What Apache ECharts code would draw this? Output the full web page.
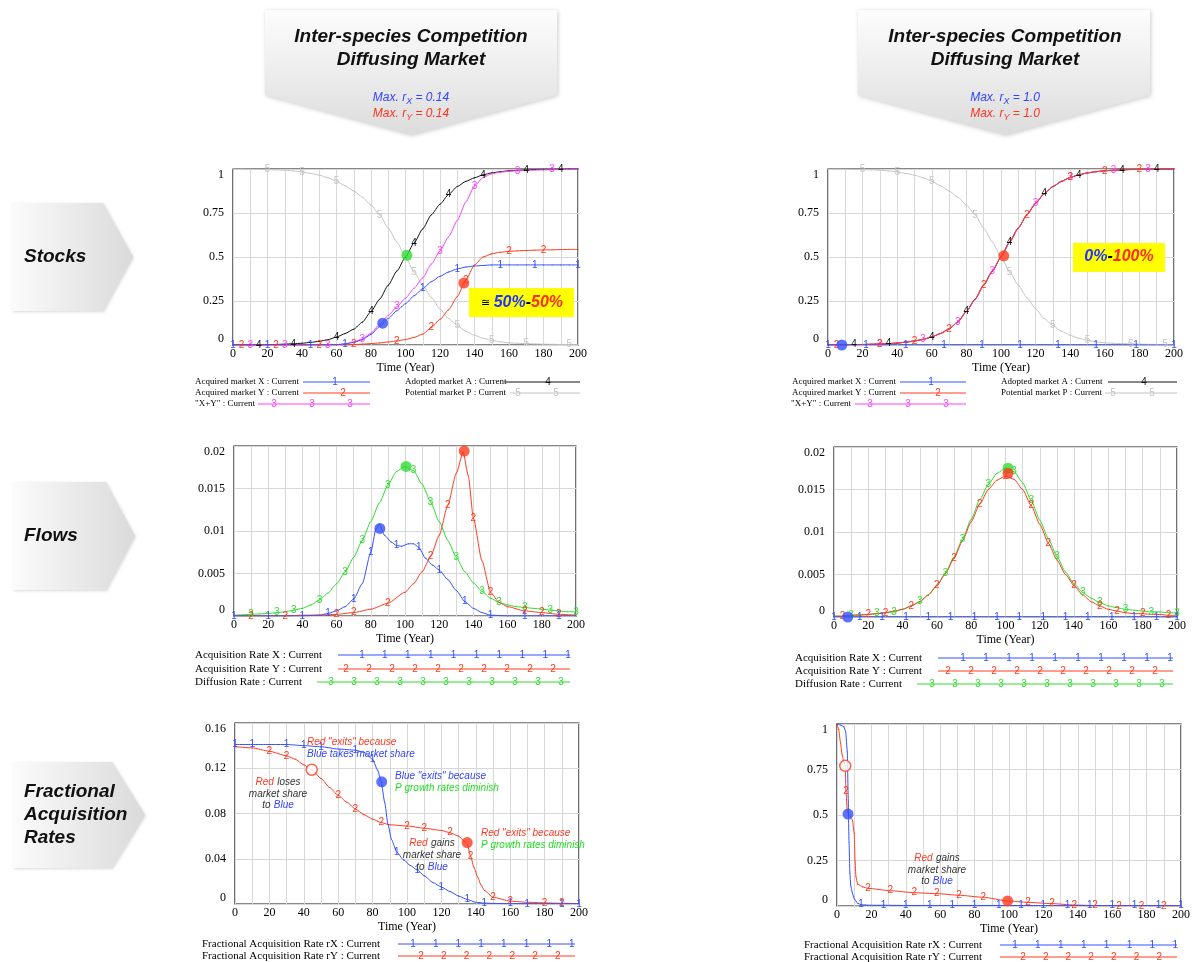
<!DOCTYPE html>
<html>
<head>
<meta charset="utf-8">
<script src="https://cdn.jsdelivr.net/npm/echarts@6/dist/echarts.min.js"></script>
</head>
<body style="margin:0;background:#fff">
<div id="container" style="width:1192px;height:962px"></div>
<script>
var SERIF = '"Liberation Serif", "Times New Roman", serif';
var SANS = '"Liberation Sans", Arial, sans-serif';
var BLUE = '#3350ff', RED = '#ff3a1e', MAG = '#ff40ff', BLACK = '#111', GRAY = '#c4c4c4', GREEN = '#2fdc2f';

// time grid, years
var T5 = [0,5,10,15,20,25,30,35,40,45,50,55,60,65,70,75,80,85,90,95,100,105,110,115,120,125,130,135,140,145,150,155,160,165,170,175,180,185,190,195,200];

// ---- Stocks, max r = 0.14
var stockL_X = [0,0,0,0,0,0,0,0,0,0,0,0,0.002,0.006,0.015,0.03,0.06,0.105,0.15,0.195,0.235,0.28,0.32,0.36,0.39,0.415,0.432,0.443,0.449,0.452,0.455,0.455,0.455,0.455,0.455,0.455,0.455,0.455,0.455,0.455,0.455];
var stockL_Y = [0,0,0,0,0,0,0,0,0,0,0,0,0,0,0.002,0.005,0.008,0.012,0.017,0.023,0.031,0.043,0.062,0.1,0.145,0.2,0.275,0.37,0.455,0.5,0.518,0.527,0.532,0.535,0.537,0.539,0.54,0.541,0.542,0.543,0.543];
var stockL_XY = [0,0,0,0,0,0,0,0,0,0,0,0,0.002,0.006,0.017,0.035,0.068,0.117,0.167,0.218,0.266,0.323,0.382,0.46,0.535,0.615,0.707,0.813,0.904,0.952,0.973,0.982,0.987,0.99,0.992,0.994,0.995,0.996,0.997,0.998,0.998];
var stockL_A = [0,0,0.001,0.001,0.002,0.003,0.005,0.007,0.01,0.015,0.021,0.03,0.045,0.065,0.09,0.13,0.19,0.26,0.34,0.42,0.5,0.58,0.66,0.74,0.8,0.855,0.9,0.93,0.95,0.967,0.978,0.985,0.99,0.993,0.995,0.997,0.998,0.999,0.999,1,1];
var stockL_P = [1,1,0.999,0.998,0.997,0.995,0.993,0.989,0.983,0.975,0.965,0.95,0.93,0.905,0.875,0.84,0.795,0.74,0.665,0.585,0.5,0.415,0.34,0.27,0.205,0.15,0.11,0.078,0.055,0.038,0.026,0.018,0.012,0.01,0.008,0.006,0.005,0.004,0.003,0.003,0.002];

// ---- Stocks, max r = 1.0
var stockR_tX = [0,8,22,45,67,89,111,133,155,178,200];
var stockR_X = [0,0,0,0,0,0,0,0,0,0,0];
var stockR_A = [0.001,0.001,0.002,0.002,0.003,0.004,0.006,0.008,0.011,0.016,0.023,0.032,0.046,0.065,0.092,0.13,0.19,0.26,0.34,0.42,0.5,0.585,0.665,0.74,0.805,0.86,0.9,0.93,0.952,0.967,0.978,0.985,0.99,0.993,0.995,0.997,0.998,0.998,0.999,0.999,1];
var stockR_P = [1,1,0.999,0.998,0.997,0.995,0.993,0.989,0.983,0.975,0.965,0.95,0.93,0.905,0.875,0.84,0.795,0.74,0.665,0.585,0.5,0.415,0.34,0.27,0.205,0.15,0.11,0.078,0.055,0.038,0.026,0.018,0.012,0.01,0.008,0.006,0.005,0.004,0.003,0.003,0.002];

// ---- Flows, max r = 0.14
var flowL_D = [0.0001,0.00015,0.0002,0.00025,0.0003,0.0004,0.0005,0.0007,0.0009,0.0013,0.0019,0.0027,0.0038,0.0052,0.0069,0.0089,0.0111,0.0133,0.0154,0.017,0.0176,0.0171,0.0155,0.0134,0.0111,0.0089,0.0069,0.0052,0.0039,0.0029,0.0021,0.0016,0.0013,0.0011,0.001,0.0009,0.0008,0.0007,0.0006,0.0005,0.0005];
var flowL_tX = [0,10,20,30,40,50,55,60,65,70,75,80,83,85,88,92,95,98,102,105,108,112,116,120,125,130,135,140,145,150,160,170,180,190,200];
var flowL_X = [0,0,0,0,0,0.0001,0.0003,0.0006,0.0011,0.002,0.0038,0.0075,0.0102,0.0108,0.0095,0.0087,0.0083,0.0082,0.0085,0.0085,0.0081,0.0068,0.006,0.0054,0.0043,0.003,0.0017,0.0009,0.0004,0.0001,0,0,0,0,0];
var flowL_tY = [0,10,20,30,40,50,60,70,80,90,100,105,110,115,120,125,130,134,137,140,145,150,155,160,170,180,190,200];
var flowL_Y = [0,0,0,0,0.0001,0.0001,0.0002,0.0004,0.0008,0.0015,0.0028,0.0038,0.0052,0.007,0.0095,0.013,0.0168,0.0193,0.0165,0.0115,0.0065,0.0028,0.0016,0.0011,0.0006,0.0004,0.0002,0.0001];

// ---- Flows, max r = 1.0
var flowR_D = [0.0001,0.0001,0.0002,0.0003,0.0003,0.0004,0.0005,0.0006,0.0009,0.0013,0.0018,0.0026,0.0037,0.0052,0.0071,0.0092,0.0115,0.0138,0.0156,0.0169,0.0175,0.0171,0.0158,0.0137,0.0114,0.0092,0.0071,0.0053,0.0039,0.0029,0.0022,0.0017,0.0013,0.0011,0.0009,0.0008,0.0007,0.0006,0.0006,0.0005,0.0005];
var flowR_Y = [0.0001,0.0001,0.0002,0.0002,0.0003,0.0004,0.0005,0.0007,0.0009,0.0013,0.0018,0.0026,0.0037,0.0051,0.0069,0.009,0.0112,0.0133,0.015,0.0161,0.0166,0.0162,0.015,0.0131,0.0109,0.0087,0.0067,0.005,0.0037,0.0026,0.0018,0.0013,0.0009,0.0007,0.0005,0.0004,0.0004,0.0003,0.0003,0.0002,0.0002];
var flowR_tX = [0,8,15,28,42,55,68,82,95,108,122,135,148,162,175,188,200];
var flowR_X = [0,0,0,0,0,0,0,0,0,0,0,0,0,0,0,0,0];

// ---- Fractional acquisition rates, max r = 0.14
var fracL_tX = [0,10,20,30,40,50,60,70,75,80,83,85,87,89,91,94,98,102,106,110,115,120,125,130,135,140,145,150,160,170,180,190,200];
var fracL_X = [0.141,0.141,0.141,0.141,0.14,0.139,0.137,0.136,0.134,0.128,0.118,0.108,0.09,0.07,0.057,0.046,0.039,0.034,0.03,0.025,0.019,0.015,0.011,0.007,0.004,0.0015,0.0008,0.0005,0.0003,0.0002,0.0002,0.0002,0.0002];
var fracL_tY = [0,10,20,30,35,40,45,50,55,60,65,70,75,80,85,90,100,110,120,125,130,133,135,137,139,141,143,145,150,160,170,180,190,200];
var fracL_Y = [0.139,0.138,0.135,0.131,0.128,0.123,0.118,0.111,0.103,0.096,0.09,0.084,0.079,0.075,0.072,0.07,0.069,0.067,0.065,0.063,0.06,0.056,0.053,0.042,0.032,0.024,0.017,0.012,0.006,0.0025,0.0015,0.001,0.0006,0.0004];

// ---- Fractional acquisition rates, max r = 1.0
var fracR_tX = [0,2,4,5,6,6.5,7,7.5,8,9,10,12,14,20,27,40,54,67,80,94,107,120,134,147,160,173,187,200];
var fracR_X = [1,0.995,0.985,0.96,0.85,0.6,0.35,0.18,0.11,0.07,0.04,0.015,0.007,0.004,0.004,0.003,0.003,0.003,0.003,0.003,0.002,0.002,0.002,0.002,0.002,0.002,0.002,0.002];
var fracR_tY = [0,1,2,3,4,4.8,5.2,6,7,8,9,10,10.5,11,12,15,18,31,45,58,71,85,99,111,125,138,150,164,177,190,200];
var fracR_Y = [1,0.97,0.9,0.83,0.79,0.77,0.63,0.52,0.5,0.49,0.47,0.4,0.25,0.16,0.12,0.105,0.097,0.084,0.073,0.068,0.059,0.048,0.028,0.02,0.013,0.0055,0.002,0.0012,0.0008,0.0005,0.0004];

// highlighted points
var dotStockL = {green: [[100.8, 0.51]], blue: [[86.8, 0.124]], red: [[133.8, 0.352]]};
var dotStockR = {red: [[101.6, 0.507]], blue: [[8, 0]]};
var dotFlowL = {green: [[100.6, 0.0176]], blue: [[85.3, 0.0103]], red: [[134.6, 0.0194]]};
var dotFlowR = {green: [[101.5, 0.0175]], red: [[101.5, 0.0169]], blue: [[8, 0]]};
var dotFracL = {open: [[44.6, 0.1187]], blue: [[85.3, 0.108]], red: [[135, 0.0543]]};
var dotFracR = {open: [[4.8, 0.77]], blue: [[6.4, 0.505]], red: [[99.2, 0.028]]};

var grids = [
  {left: 233, top: 169, width: 345, height: 176},
  {left: 828, top: 169, width: 346, height: 176},
  {left: 234, top: 446, width: 342, height: 170},
  {left: 834, top: 447, width: 343, height: 170},
  {left: 235, top: 723, width: 344, height: 181},
  {left: 837, top: 724, width: 344, height: 182}
];
var yMax = [1, 1, 0.02, 0.02, 0.16, 1];
var yStep = [0.25, 0.25, 0.005, 0.005, 0.04, 0.25];

function line(g, t, v, color, digit, marks, z) {
  return {
    type: 'line', xAxisIndex: g, yAxisIndex: g,
    data: t.map(function (x, k) { return [x, v[k]]; }),
    symbol: 'circle', symbolSize: 1, showSymbol: true,
    smooth: 0.2, smoothMonotone: 'x',
    lineStyle: {color: color, width: 1},
    itemStyle: {color: color},
    label: {
      show: true, position: 'inside', color: color, fontSize: 10, fontFamily: SANS,
      formatter: function (p) { return marks.indexOf(p.value[0]) >= 0 ? digit : ''; }
    },
    z: z || 2, silent: true, animation: false
  };
}
function dot(g, pts, color, hollow) {
  return {
    type: 'scatter', xAxisIndex: g, yAxisIndex: g, data: pts, symbolSize: 11,
    itemStyle: hollow ? {color: '#fff', borderColor: color, borderWidth: 1.5} : {color: color},
    z: 6, silent: true, animation: false
  };
}

var series = [
  line(0, T5, stockL_P, GRAY, '5', [20,40,60,85,105,130,150,170,195]),
  line(0, T5, stockL_A, BLACK, '4', [15,35,60,80,105,125,145,170,190]),
  line(0, T5, stockL_XY, MAG, '3', [10,30,55,75,95,120,140,165,185]),
  line(0, T5, stockL_Y, RED, '2', [5,25,50,70,95,115,135,160,180]),
  line(0, T5, stockL_X, BLUE, '1', [0,20,45,65,110,130,155,175,200]),
  dot(0, dotStockL.green, GREEN), dot(0, dotStockL.blue, BLUE), dot(0, dotStockL.red, RED),

  line(1, T5, stockR_P, GRAY, '5', [20,40,60,85,105,130,150,175,195]),
  line(1, T5, stockR_A, BLACK, '4', [15,35,60,80,105,125,145,170,190]),
  line(1, T5, stockR_A, MAG, '3', [30,55,75,95,120,140,165,185]),
  line(1, T5, stockR_A, RED, '2', [5,30,50,70,90,115,140,160,180]),
  line(1, stockR_tX, stockR_X, BLUE, '1', [0,22,45,67,89,111,133,155,178,200]),
  dot(1, dotStockR.red, RED), dot(1, dotStockR.blue, BLUE),

  line(2, T5, flowL_D, GREEN, '3', [10,25,35,50,65,75,90,105,115,130,145,155,170,185,200]),
  line(2, flowL_tY, flowL_Y, RED, '2', [10,30,60,70,90,115,125,140,150,170,180,190]),
  line(2, flowL_tX, flowL_X, BLUE, '1', [0,20,40,55,70,80,95,108,120,135,150,170,190]),
  dot(2, dotFlowL.green, GREEN), dot(2, dotFlowL.blue, BLUE), dot(2, dotFlowL.red, RED),

  line(3, T5, flowR_D, GREEN, '3', [10,25,35,50,65,75,90,105,115,130,145,155,170,185,200]),
  line(3, T5, flowR_Y, RED, '2', [5,20,30,45,60,70,85,100,115,125,140,155,165,180,195]),
  line(3, flowR_tX, flowR_X, BLUE, '1', [0,15,28,42,55,68,82,95,108,122,135,148,162,175,188,200]),
  dot(3, dotFlowR.green, GREEN), dot(3, dotFlowR.red, RED), dot(3, dotFlowR.blue, BLUE),

  line(4, fracL_tY, fracL_Y, RED, '2', [20,30,60,70,85,100,110,125,137,150,160,180,190]),
  line(4, fracL_tX, fracL_X, BLUE, '1', [0,10,30,40,50,70,80,94,106,120,135,145,160,170,190,200]),
  dot(4, dotFracL.open, RED, true), dot(4, dotFracL.blue, BLUE), dot(4, dotFracL.red, RED),

  line(5, fracR_tY, fracR_Y, RED, '2', [5.2,18,31,45,58,71,85,111,125,138,150,164,177,190]),
  line(5, fracR_tX, fracR_X, BLUE, '1', [14,27,40,54,67,80,94,107,120,134,147,160,173,187,200]),
  dot(5, dotFracR.open, RED, true), dot(5, dotFracR.blue, BLUE), dot(5, dotFracR.red, RED)
];

var xAxes = grids.map(function (g, i) {
  return {
    gridIndex: i, type: 'value', min: 0, max: 200, interval: 10,
    name: 'Time (Year)', nameLocation: 'middle', nameGap: 17,
    nameTextStyle: {fontFamily: SERIF, fontSize: 12, color: '#000'},
    axisLine: {show: false}, axisTick: {show: false},
    axisLabel: {fontFamily: SERIF, fontSize: 12, color: '#000', margin: 3,
      formatter: function (v) { return v % 20 === 0 ? String(v) : ''; }},
    splitLine: {show: true, lineStyle: {color: '#d8d8d8', width: 1}}
  };
});
var yAxes = grids.map(function (g, i) {
  return {
    gridIndex: i, type: 'value', min: 0, max: yMax[i], interval: yStep[i],
    axisLine: {show: false}, axisTick: {show: false},
    axisLabel: {fontFamily: SERIF, fontSize: 12, color: '#000', margin: 9,
      verticalAlignMinLabel: 'bottom', verticalAlignMaxLabel: 'top'},
    splitLine: {show: true, lineStyle: {color: '#d8d8d8', width: 1}}
  };
});

// ---- decoration: headers, row tabs, legends, notes
var graphics = [];
function grad(vertical, c0, c1) {
  return {type: 'linear', x: 0, y: 0, x2: vertical ? 0 : 1, y2: vertical ? 1 : 0,
    colorStops: [{offset: 0, color: c0}, {offset: 1, color: c1}]};
}
function txt(x, y, text, o) {
  o = o || {};
  graphics.push({type: 'text', x: x, y: y, z: 10, silent: true, style: {
    text: text, fill: o.fill || '#000', fontSize: o.size || 12, fontFamily: o.family || SANS,
    fontStyle: o.style || 'normal', fontWeight: o.weight || 'normal',
    align: o.align || 'left', verticalAlign: 'middle', rich: o.rich
  }});
}

var headers = [[265, 557, 411, '0.14'], [858, 1150, 1005, '1.0']];
headers.forEach(function (h) {
  graphics.push({type: 'polygon', z: 1, silent: true,
    shape: {points: [[h[0], 10], [h[1], 10], [h[1], 95], [h[2], 135], [h[0], 95]]},
    style: {fill: grad(true, '#fdfdfd', '#dcdcdc'), shadowBlur: 4, shadowColor: 'rgba(0,0,0,0.2)', shadowOffsetX: 1, shadowOffsetY: 1}});
  txt(h[2], 37, 'Inter-species Competition', {size: 19, weight: 'bold', style: 'italic', align: 'center', fill: '#111'});
  txt(h[2], 60, 'Diffusing Market', {size: 19, weight: 'bold', style: 'italic', align: 'center', fill: '#111'});
  ['X', 'Y'].forEach(function (s, k) {
    var c = k === 0 ? '#3344ff' : '#ff3322';
    txt(h[2], 98 + k * 16, '{n|Max. r}{s|' + s + '}{n| = ' + h[3] + '}', {align: 'center', rich: {
      n: {fill: c, fontSize: 12, fontStyle: 'italic', fontFamily: SANS, lineHeight: 16},
      s: {fill: c, fontSize: 9, fontStyle: 'italic', fontFamily: SANS, verticalAlign: 'bottom'}
    }});
  });
});

var tabs = [
  [12, 103, 133, 203, 311, ['Stocks']],
  [13, 106, 135, 482, 590, ['Flows']],
  [13, 112, 145, 762, 868, ['Fractional', 'Acquisition', 'Rates']]
];
tabs.forEach(function (t) {
  var mid = (t[3] + t[4]) / 2;
  graphics.push({type: 'polygon', z: 1, silent: true,
    shape: {points: [[t[0], t[3]], [t[1], t[3]], [t[2], mid], [t[1], t[4]], [t[0], t[4]]]},
    style: {fill: grad(false, '#fbfbfb', '#dadada'), shadowBlur: 3, shadowColor: 'rgba(0,0,0,0.15)', shadowOffsetX: 1, shadowOffsetY: 1}});
  var n = t[5].length;
  t[5].forEach(function (s, k) {
    txt(24, mid + (k - (n - 1) / 2) * 23, s, {size: 19, weight: 'bold', style: 'italic', fill: '#111'});
  });
});

// legend rows: label, text x, y, colour, line x1, line x2, digit, first digit x, step, count
var legends = [
  [9, [['Acquired market X : Current', 195, 382, BLUE, 303, 370, '1', 335, 0, 1],
       ['Acquired market Y : Current', 195, 393, RED, 303, 370, '2', 343, 0, 1],
       ['"X+Y" : Current', 195, 404, MAG, 258, 370, '3', 274, 38, 3],
       ['Adopted market A : Current', 405, 382, BLACK, 505, 580, '4', 548, 0, 1],
       ['Potential market P : Current', 405, 393, GRAY, 510, 580, '5', 518, 38, 2],
       ['Acquired market X : Current', 792, 382, BLUE, 900, 966, '1', 931, 0, 1],
       ['Acquired market Y : Current', 792, 393, RED, 900, 966, '2', 938, 0, 1],
       ['"X+Y" : Current', 791, 404, MAG, 855, 966, '3', 870, 38, 3],
       ['Adopted market A : Current', 1001, 382, BLACK, 1108, 1177, '4', 1144, 0, 1],
       ['Potential market P : Current', 1001, 393, GRAY, 1105, 1177, '5', 1113, 39, 2]]],
  [11, [['Acquisition Rate X : Current', 195, 655, BLUE, 338, 570, '1', 362, 22.9, 10],
        ['Acquisition Rate Y : Current', 195, 669, RED, 338, 570, '2', 346, 23, 10],
        ['Diffusion Rate : Current', 195, 682, GREEN, 317, 570, '3', 331, 23, 11],
        ['Acquisition Rate X : Current', 795, 658, BLUE, 938, 1173, '1', 963, 23, 10],
        ['Acquisition Rate Y : Current', 795, 671, RED, 938, 1173, '2', 948, 23, 10],
        ['Diffusion Rate : Current', 795, 684, GREEN, 917, 1173, '3', 932, 23, 11],
        ['Fractional Acquisition Rate rX : Current', 202, 944, BLUE, 398, 575, '1', 413, 22.7, 8],
        ['Fractional Acquisition Rate rY : Current', 202, 956, RED, 398, 575, '2', 421, 22.8, 7],
        ['Fractional Acquisition Rate rX : Current', 804, 945, BLUE, 1000, 1177, '1', 1015, 22.9, 8],
        ['Fractional Acquisition Rate rY : Current', 804, 957, RED, 1000, 1177, '2', 1023, 22.7, 7]]]
];
legends.forEach(function (grp) {
  grp[1].forEach(function (r) {
    txt(r[1], r[2], r[0], {size: grp[0], family: SERIF});
    graphics.push({type: 'line', z: 9, silent: true, shape: {x1: r[4], y1: r[2], x2: r[5], y2: r[2]},
      style: {stroke: r[3], lineWidth: 1}});
    for (var k = 0; k < r[9]; k++) {
      txt(r[7] + k * r[8], r[2], r[6], {size: 10, align: 'center', fill: r[3]});
    }
  });
});

// yellow result boxes
graphics.push({type: 'rect', z: 8, silent: true, shape: {x: 469, y: 288, width: 105, height: 29}, style: {fill: '#ffff00'}});
graphics.push({type: 'rect', z: 8, silent: true, shape: {x: 1073, y: 243, width: 92, height: 29}, style: {fill: '#ffff00'}});
var boxRich = {
  k: {fill: '#000', fontSize: 16, fontWeight: 'bold', fontStyle: 'italic', fontFamily: SANS},
  e: {fill: '#000', fontSize: 11, fontFamily: '"DejaVu Sans", sans-serif'},
  b: {fill: '#2233ff', fontSize: 16, fontWeight: 'bold', fontStyle: 'italic', fontFamily: SANS},
  r: {fill: '#ff2a1a', fontSize: 16, fontWeight: 'bold', fontStyle: 'italic', fontFamily: SANS}
};
txt(522, 303, '{e|\u2245 }{b|50%}{k|-}{r|50%}', {align: 'center', rich: boxRich});
txt(1119, 257, '{b|0%}{k|-}{r|100%}', {align: 'center', rich: boxRich});

// notes on the fractional-rate panels
var nr = {
  r: {fill: '#ff3a22', fontSize: 10, fontStyle: 'italic', fontFamily: SANS},
  b: {fill: '#3344ff', fontSize: 10, fontStyle: 'italic', fontFamily: SANS},
  g: {fill: '#22dd22', fontSize: 10, fontStyle: 'italic', fontFamily: SANS},
  k: {fill: '#333', fontSize: 10, fontStyle: 'italic', fontFamily: SANS}
};
function note(x, y, s, align) { txt(x, y, s, {align: align || 'left', rich: nr}); }
note(307, 742, '{r|Red "exits" because}');
note(307, 754, '{b|Blue takes market share}');
note(395, 776, '{b|Blue "exits" because}');
note(395, 788, '{g|P growth rates diminish}');
note(278, 782, '{r|Red} {k|loses}', 'center');
note(278, 794, '{k|market share}', 'center');
note(278, 805, '{k|to} {b|Blue}', 'center');
note(481, 833, '{r|Red "exits" because}');
note(481, 845, '{g|P growth rates diminish}');
note(432, 843, '{r|Red} {k|gains}', 'center');
note(432, 855, '{k|market share}', 'center');
note(432, 867, '{k|to} {b|Blue}', 'center');
note(937, 858, '{r|Red} {k|gains}', 'center');
note(937, 870, '{k|market share}', 'center');
note(937, 881, '{k|to} {b|Blue}', 'center');

var chart = echarts.init(document.getElementById('container'));
chart.setOption({
  animation: false,
  backgroundColor: '#fff',
  grid: grids.map(function (g) {
    return {left: g.left, top: g.top, width: g.width, height: g.height, show: true,
      borderColor: '#111', borderWidth: 1.2, backgroundColor: 'transparent', outerBoundsMode: 'none'};
  }),
  xAxis: xAxes,
  yAxis: yAxes,
  series: series,
  graphic: graphics
});
</script>
</body>
</html>
